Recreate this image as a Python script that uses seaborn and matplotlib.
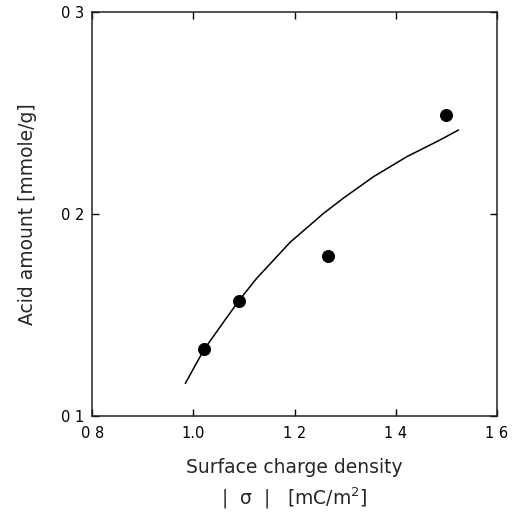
import matplotlib
matplotlib.use("Agg")
import matplotlib.pyplot as plt
import seaborn as sns
import pandas as pd

# Measured data points
sigma = [1.02, 1.09, 1.265, 1.50]
acid = [0.133, 0.157, 0.179, 0.249]

# Fitted curve
curve_x = [0.984, 1.021, 1.089, 1.125, 1.191, 1.257, 1.296, 1.356, 1.422, 1.487, 1.524]
curve_y = [0.1162, 0.1330, 0.1569, 0.1682, 0.1860, 0.2003, 0.2078, 0.2185, 0.2284, 0.2366, 0.2416]

xticks = [0.8, 1.0, 1.2, 1.4, 1.6]
xtick_labels = ["0 8", "1.0", "1 2", "1 4", "1 6"]
yticks = [0.1, 0.2, 0.3]
ytick_labels = ["0 1", "0 2", "0 3"]

sns.set_style("ticks")
plt.rcParams['font.family'] = ['DejaVu Sans']

fig = plt.figure(figsize=(5.21, 5.17), dpi=100)
ax = fig.add_axes([0.177, 0.195, 0.777, 0.782])

pts = pd.DataFrame({"x": sigma, "y": acid})
cur = pd.DataFrame({"x": curve_x, "y": curve_y})
sns.lineplot(data=cur, x="x", y="y", ax=ax, color="black", linewidth=1.1, sort=False)
sns.scatterplot(data=pts, x="x", y="y", ax=ax, color="black", s=75, edgecolor="black", zorder=3)

ax.set_xlim(0.8, 1.6)
ax.set_ylim(0.1, 0.3)
ax.set_xticks(xticks)
ax.set_xticklabels(xtick_labels)
ax.set_yticks(yticks)
ax.set_yticklabels(ytick_labels)
ax.tick_params(direction="in", length=5, width=1, labelsize=10.5, colors="black",
               top=True, right=True)
ax.tick_params(axis="x", pad=7)
ax.tick_params(axis="y", pad=6)
for s in ax.spines.values():
    s.set_visible(True)
    s.set_linewidth(1.1)
    s.set_color("#222222")

ax.set_xlabel("Surface charge density\n|  σ  |   [mC/m$^2$]", fontsize=13.5,
              labelpad=12, linespacing=1.45)
ax.set_ylabel("Acid amount [mmole/g]", fontsize=13.5, labelpad=17)

fig.savefig("out.png", dpi=100)
